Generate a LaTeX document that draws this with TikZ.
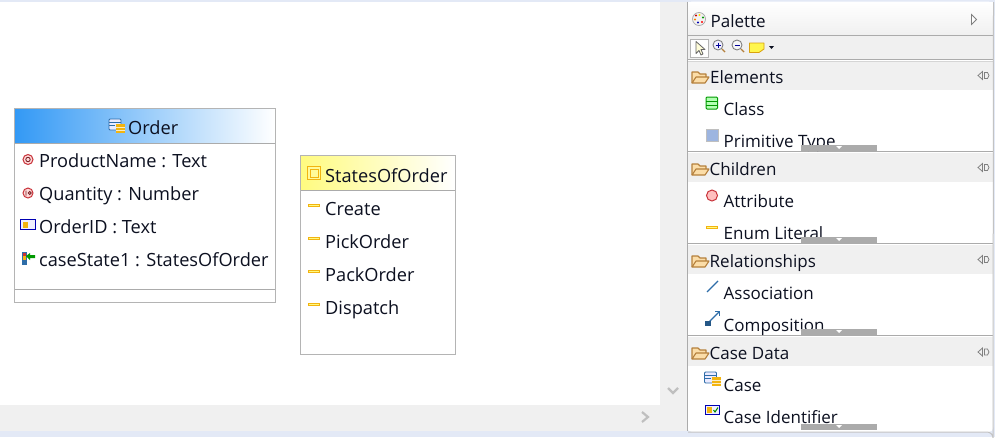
\documentclass[tikz,border=0pt]{standalone}
\usepackage{fontspec}
\setmainfont{Open Sans}
\definecolor{ink}{HTML}{0C1020}
\definecolor{pane}{HTML}{F0F0F0}
\definecolor{rule}{HTML}{ABABAB}
\definecolor{frame}{HTML}{B4B4B4}
\definecolor{pale}{HTML}{E3E9F6}
\definecolor{caseblue}{HTML}{3399F5}
\definecolor{enumyel}{HTML}{FFFB80}
\definecolor{gold}{HTML}{F2B410}
\definecolor{attr}{HTML}{C8333A}
\definecolor{folder}{HTML}{B5803C}
\definecolor{foldfill}{HTML}{FBDDA8}
\definecolor{line}{HTML}{2E6DA8}
\definecolor{prim}{HTML}{9DB5E0}
\tikzset{
  lab/.style={anchor=base west,inner sep=0pt,text=ink,font=\fontsize{17}{20}\selectfont},
  dlab/.style={anchor=base west,inner sep=0pt,text=ink,font=\fontsize{18.2}{20}\selectfont},
  boxframe/.style={draw=frame,line width=1pt},
  sep/.style={draw=rule,line width=1pt},
  greybar/.style={fill=rule,draw=none},
  head/.style={fill=pane,draw=none},
  folderic/.style={draw=folder,line width=1.1pt,fill=foldfill,line join=round},
  enumic/.style={draw=gold,line width=1pt,fill=enumyel},
  attric/.style={draw=attr,line width=1pt,fill=red!25},
}
\newcommand{\folderat}[2]{%
  \path[folderic] (#1+2,#2+14) -- (#1+2,#2+3) -- (#1+8,#2+3) -- (#1+10,#2+5) -- (#1+16,#2+5) -- (#1+16,#2+8);
  \path[folderic] (#1+2,#2+14) -- (#1+6,#2+8) -- (#1+19,#2+8) -- (#1+15,#2+14) -- cycle;}
\newcommand{\handleat}[2]{%
  \draw[gray,line width=.8pt] (#1,#2) -- (#1+4.5,#2-4) -- (#1+4.5,#2+4) -- cycle;
  \draw[gray,line width=.8pt] (#1+9.5,#2-3) -- (#1+6.5,#2-3) -- (#1+6.5,#2+3) -- (#1+9.5,#2+3) -- (#1+11,#2) -- cycle;}
\newcommand{\chevat}[2]{\fill[white] (#1-3,#2-1) -- (#1+3,#2-1) -- (#1,#2+2) -- cycle;}
\newcommand{\caseicon}[2]{%
  \draw[draw=line,fill=blue!8,line width=.8pt,rounded corners=1pt] (#1,#2) rectangle (#1+12,#2+11);
  \draw[line,line width=.8pt] (#1,#2+3) -- (#1+12,#2+3) (#1,#2+6) -- (#1+6,#2+6);
  \fill[gold] (#1+7,#2+5) rectangle (#1+16,#2+14);
  \draw[white!75!gold,line width=.5pt] (#1+7,#2+8) -- (#1+16,#2+8) (#1+7,#2+11) -- (#1+16,#2+11);}
\begin{document}
\begin{tikzpicture}[x=1pt,y=-1pt]
\useasboundingbox (0,0) rectangle (995,437);
% window background
\fill[pale] (0,0) rectangle (995,437);
\fill[white] (0,1.5) rectangle (660,405);
\fill[pane] (0,405) rectangle (687,431);
\fill[pane] (660,1.5) rectangle (687,431);
% scroll arrows
\draw[frame!85!white,line width=2.2pt] (668,388) -- (673,393) -- (678,388);
\draw[frame!85!white,line width=2.2pt] (642,412) -- (648,417) -- (642,422);
% palette body
\path[fill=white,draw=none,rounded corners=5pt] (687,1.5) -- (993.5,1.5) -- (993.5,432) -- (687,432) -- cycle;
\shade[top color=white,bottom color=pane,draw=none] (688,2) rectangle (993,35);
\fill[pane] (688,36) rectangle (993,59);
\draw[rule,line width=1pt] (687,1.5) -- (687,431);
\draw[sep] (688,35.5) -- (993,35.5);
\draw[sep] (688,59.5) -- (993,59.5);
\draw[rule!50!white,line width=1pt] (688,61) -- (993,61);
\fill[head] (688,62) rectangle (993,90);
\fill[head] (688,153) rectangle (993,182);
\fill[head] (688,245) rectangle (993,274);
\fill[head] (688,337) rectangle (993,366);
\draw[sep] (688,151.5) -- (993,151.5);
\draw[sep] (688,243.5) -- (993,243.5);
\draw[sep] (688,335.5) -- (993,335.5);
\draw[frame!80!white,line width=1pt] (688,432) -- (987,432) arc[start angle=90,end angle=0,radius=6pt] -- (993.5,2);
% Palette header
\draw[gray!70,fill=gray!10,line width=.7pt] (699,19) circle[radius=6.5pt];
\fill[red!80!black] (696,15.5) circle[radius=1.2pt];
\fill[yellow!80!orange] (699.5,15) circle[radius=1.2pt];
\fill[green!60!black] (703,17.5) circle[radius=1.2pt];
\fill[orange] (695,19.5) circle[radius=1.2pt];
\fill[blue!70!black] (698,22.5) circle[radius=1.2pt];
\fill[red] (702,22) circle[radius=1.2pt];
\node[lab] (tpalette) at (710.5,27) {Palette};
\draw[gray,fill=white,line width=.8pt] (971.5,14.5) -- (976.5,19.5) -- (971.5,24.5) -- cycle;
% toolbar
\draw[frame,fill=white,line width=1pt] (690.5,39.5) rectangle (708,57);
\path[draw=gray!80!black,fill=yellow!15,line width=.8pt,line join=round] (696,41.5) -- (696,53.5) -- (699,50.5) -- (701,55) -- (703,54) -- (701,49.5) -- (705,49.5) -- cycle;
\draw[gray,fill=blue!6,line width=.9pt] (718,45) circle[radius=5pt];
\draw[folder,line width=1.4pt] (722,49) -- (725,52);
\draw[blue!60!black,line width=.9pt] (715.5,45) -- (720.5,45) (718,42.5) -- (718,47.5);
\draw[gray,fill=gray!6,line width=.9pt] (737,45) circle[radius=5pt];
\draw[folder,line width=1.4pt] (741,49) -- (744,52);
\draw[blue!60!black,line width=.9pt] (734.5,45) -- (739.5,45);
\path[draw=gold!90!black,fill=yellow!70!white,line width=.8pt,line join=round] (749.5,43) -- (764,43) -- (764,49) -- (759,52.5) -- (749.5,52.5) -- cycle;
\fill[ink] (769,46) -- (774,46) -- (771.5,49) -- cycle;
% section headers
\folderat{690}{69}
\node[lab] (telements) at (710,83) {Elements};
\handleat{978}{75.5}
\folderat{690}{161}
\node[lab] (tchildren) at (709.5,175) {Children};
\handleat{978}{167.5}
\folderat{690}{253}
\node[lab] (trel) at (709.5,267) {Relationships};
\handleat{978}{259.5}
\folderat{690}{345}
\node[lab] (tcd) at (709.5,359) {Case Data};
\handleat{978}{352}
% items
\draw[draw=green!60!black,fill=green!30,line width=1pt,rounded corners=1pt] (706,97) rectangle (717.5,109);
\draw[green!60!black,line width=.8pt] (706,101) -- (717.5,101) (706,105) -- (717.5,105);
\node[lab] (iclass) at (723.5,115) {Class};
\draw[draw=gray!50,fill=prim,line width=1pt] (706,129) rectangle (718,141);
\begin{scope}
\clip (688,125) rectangle (993,151);
\node[lab] (iprim) at (723.5,147.5) {Primitive Type};
\end{scope}
\draw[attric] (712,195.5) circle[radius=5.5pt];
\node[lab] (iattr) at (723.5,207) {Attribute};
\draw[enumic] (706.5,226) rectangle (717.5,228.5);
\begin{scope}
\clip (688,218) rectangle (993,243);
\node[lab] (ienum) at (723.5,239) {Enum Literal};
\end{scope}
\draw[line,line width=1.1pt] (707,292) -- (718,281);
\node[lab] (iassoc) at (723.5,299) {Association};
\draw[line,line width=1.1pt] (708,323) -- (719.5,311.5);
\draw[line,line width=1pt] (715,311.5) -- (719.5,311.5) -- (719.5,316);
\fill[line!80!black] (705,320.5) rectangle (710.5,326);
\begin{scope}
\clip (688,310) rectangle (993,335);
\node[lab] (icomp) at (723.5,331) {Composition};
\end{scope}
\caseicon{704.5}{372}
\node[lab] (icase) at (723.5,391) {Case};
\draw[draw=blue!70!black,fill=blue!6,line width=1pt] (705,405) rectangle (719.5,414);
\fill[gold] (707,406.5) rectangle (712,412.5);
\draw[green!55!black,line width=1pt] (713.5,410) -- (715,412) -- (718,407.5);
\begin{scope}
\clip (688,400) rectangle (993,429);
\node[lab] (iident) at (723.5,423) {Case Identifier};
\end{scope}
% grey overlay bars
\fill[greybar] (801,144.5) rectangle (877,151); \chevat{839}{147}
\fill[greybar] (801,236.5) rectangle (877,243); \chevat{839}{239}
\fill[greybar] (801,328.5) rectangle (877,335); \chevat{839}{331}
\fill[greybar] (801,423.5) rectangle (877,429.5); \chevat{839}{426}
% Order box
\shade[left color=caseblue,right color=white,draw=none] (15,109) rectangle (275,143);
\draw[boxframe] (14.5,108.5) rectangle (275.5,302.5);
\draw[sep] (15,143.5) -- (275,143.5);
\draw[sep] (15,289.5) -- (275,289.5);
\caseicon{109}{119}
\node[dlab] (order) at (128,134.5) {Order};
\draw[draw=attr,fill=red!15,line width=1pt] (28,159.5) circle[radius=5pt];
\draw[attr!60!black,line width=.9pt] (28,159.5) circle[radius=2.2pt];
\node[dlab] (oname) at (39,167.5) {ProductName : Text};
\draw[draw=attr,fill=red!15,line width=1pt] (28,193) circle[radius=5pt];
\draw[attr!60!black,line width=.9pt] (26,190.5) -- (26,195.5) (29.7,193) circle[radius=1.5pt];
\node[dlab] (oqty) at (39,200.5) {Quantity : Number};
\draw[draw=blue!70!black,fill=blue!6,line width=1pt] (20.5,219.5) rectangle (35.5,229.5);
\fill[gold] (22.5,221.5) rectangle (27.5,227.5);
\node[dlab] (oid) at (39,233.5) {OrderID : Text};
\fill[red!60!gray] (22,252) rectangle (26,256);
\fill[gold] (22,256) rectangle (26,260);
\fill[line] (22,260) rectangle (26,264);
\draw[line,line width=.7pt] (22,252) rectangle (26,264.5);
\fill[green!60!black] (26,256) -- (30,253) -- (30,255) -- (35,255) -- (35,258) -- (30,258) -- (30,260) -- cycle;
\node[dlab] (ostate) at (39,266.5) {caseState1 : StatesOfOrder};
% StatesOfOrder box
\shade[left color=enumyel,right color=white,draw=none] (301,156) rectangle (455,190);
\draw[boxframe] (300.5,155.5) rectangle (455.5,354.5);
\draw[sep] (301,190.5) -- (455,190.5);
\draw[gold,fill=yellow!40,line width=1pt] (307.5,166.5) rectangle (320.5,179.5);
\draw[gold,line width=1pt] (310,169) rectangle (318,177);
\node[dlab] (states) at (325,182) {StatesOfOrder};
\path[enumic] (308,204) rectangle (319,206.5);
\node[dlab] (screate) at (325,215) {Create};
\path[enumic] (308,237) rectangle (319,239.5);
\node[dlab] (spick) at (325,248) {PickOrder};
\path[enumic] (308,270) rectangle (319,272.5);
\node[dlab] (spack) at (325,281) {PackOrder};
\path[enumic] (308,303) rectangle (319,305.5);
\node[dlab] (sdisp) at (325,314) {Dispatch};
\end{tikzpicture}
\end{document}
